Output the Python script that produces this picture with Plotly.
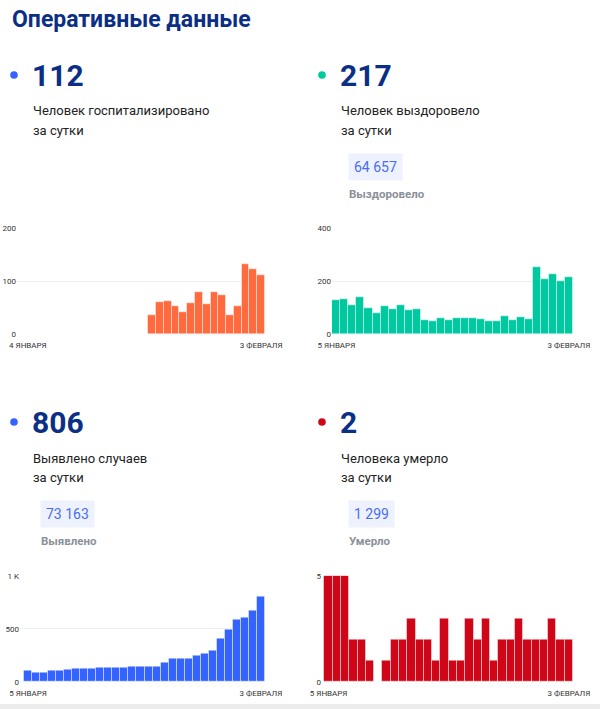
import plotly.graph_objects as go

# ── DATA ────────────────────────────────────────────────────────────────
DAYS_JAN4 = [f"2021-01-{d:02d}" for d in range(4, 32)] + [f"2021-02-{d:02d}" for d in range(1, 4)]
DAYS_JAN5 = DAYS_JAN4[1:]
DAYS_HOSP = DAYS_JAN4[16:]

HOSPITALIZED = [35, 60, 63, 53, 41, 58, 79, 57, 79, 73, 35, 52, 132, 122, 112]
RECOVERED = [129, 132, 110, 141, 97, 79, 106, 95, 109, 89, 96, 51, 49, 62, 54,
             60, 62, 60, 55, 50, 50, 67, 52, 64, 56, 251, 206, 226, 200, 217]
CASES = [110, 88, 88, 104, 110, 120, 123, 129, 129, 138, 135, 135, 138, 148, 148,
         145, 148, 185, 220, 220, 220, 248, 264, 296, 409, 494, 582, 607, 670, 806]
DEATHS = [5, 5, 5, 2, 2, 1, 0, 1, 2, 2, 3, 2, 2, 1, 3,
          1, 1, 3, 2, 3, 1, 2, 2, 3, 2, 2, 2, 3, 2, 2]

TOTAL_RECOVERED = "64 657"
TOTAL_CASES = "73 163"
TOTAL_DEATHS = "1 299"

W, H = 600, 709
FONT = "Roboto"
NAVY = "#0c2f86"
ORANGE, TEAL, BLUE, RED = "#ff6a3f", "#00c8a0", "#3563ff", "#cf0617"


def px(x):
    return x / W


def py(y):
    return 1 - y / H


fig = go.Figure()

# (trace x, trace y, categories, color, x pixel span, y pixel span, x range, y ticks, y ticktext, x ticktext)
panels = [
    (DAYS_HOSP, HOSPITALIZED, DAYS_JAN4, ORANGE, (17, 265), (228.3, 334.3), [-1.4, 30.5],
     [0, 100, 200], ["0", "100", "200"], ["4 ЯНВАРЯ", "3 ФЕВРАЛЯ"]),
    (DAYS_JAN5, RECOVERED, DAYS_JAN5, TEAL, (332, 573), (228.3, 334.3), [-0.55, 29.5],
     [0, 200, 400], ["0", "200", "400"], ["5 ЯНВАРЯ", "3 ФЕВРАЛЯ"]),
    (DAYS_JAN5, CASES, DAYS_JAN5, BLUE, (20, 265), (575.7, 682), [-1.0, 29.5],
     [0, 500, 1000], ["0", "500", "1 K"], ["5 ЯНВАРЯ", "3 ФЕВРАЛЯ"]),
    (DAYS_JAN5, DEATHS, DAYS_JAN5, RED, (322, 573), (575.7, 682), [-0.8, 29.5],
     [0, 5], ["0", "5"], ["5 ЯНВАРЯ", "3 ФЕВРАЛЯ"]),
]

layout_axes = {}
for i, (xs, ys, cats, color, xspan, yspan, xr, yt, ytt, xtt) in enumerate(panels, start=1):
    sfx = "" if i == 1 else str(i)
    fig.add_trace(go.Bar(
        x=xs, y=ys, xaxis=f"x{sfx}", yaxis=f"y{sfx}",
        marker=dict(color=color, line=dict(color="rgba(255,255,255,0.45)", width=1)),
        showlegend=False,
    ))
    layout_axes[f"xaxis{sfx}"] = dict(
        domain=[px(xspan[0]), px(xspan[1])], anchor=f"y{sfx}", automargin=False,
        type="category", categoryorder="array", categoryarray=cats, range=xr,
        tickvals=[cats[0], cats[-1]], ticktext=xtt,
        showgrid=False, zeroline=False, showline=False,
        ticks="outside", ticklen=3, tickcolor="rgba(0,0,0,0)",
        tickfont=dict(family=FONT, size=8, color="#333"),
    )
    layout_axes[f"yaxis{sfx}"] = dict(
        domain=[py(yspan[1]), py(yspan[0])], anchor=f"x{sfx}", automargin=False,
        range=[0, yt[-1]], tickvals=yt, ticktext=ytt,
        showgrid=True, gridcolor="#efefef", gridwidth=1, zeroline=False,
        ticks="", tickfont=dict(family=FONT, size=8, color="#333"),
    )

annotations = [
    dict(x=px(10), y=py(20), text="<b>Оперативные данные</b>",
         font=dict(size=23, color=NAVY)),
]

# header blocks: (dot x, text x, y offset, dot color, big number, caption line 1)
headers = [
    (14, 30, 0, BLUE, "112", "Человек госпитализировано"),
    (322, 338, 0, TEAL, "217", "Человек выздоровело"),
    (14, 30, 347, BLUE, "806", "Выявлено случаев"),
    (322, 338, 347, RED, "2", "Человека умерло"),
]
shapes = []
for dx, tx, dy, color, big, cap in headers:
    shapes.append(dict(type="circle", xref="paper", yref="paper",
                       x0=px(dx - 3.8), x1=px(dx + 3.8), y0=py(75 + dy + 3.8), y1=py(75 + dy - 3.8),
                       fillcolor=color, line=dict(width=0)))
    annotations.append(dict(x=px(tx), y=py(75 + dy), text=f"<b>{big}</b>",
                            font=dict(size=30, color=NAVY)))
    annotations.append(dict(x=px(tx + 1), y=py(111 + dy), text=cap,
                            font=dict(size=13, color="#222")))
    annotations.append(dict(x=px(tx + 1), y=py(131 + dy), text="за сутки",
                            font=dict(size=13, color="#222")))

# totals boxes
totals = [
    (348, 167, TOTAL_RECOVERED, "Выздоровело"),
    (40, 514, TOTAL_CASES, "Выявлено"),
    (348, 514, TOTAL_DEATHS, "Умерло"),
]
for bx, by, num, lbl in totals:
    annotations.append(dict(x=px(bx), y=py(by), text=num,
                            font=dict(size=14, color="#4a6cf6"),
                            bgcolor="#eef2fe", borderpad=5))
    annotations.append(dict(x=px(bx - 1), y=py(by + 27), text=f"<b>{lbl}</b>",
                            font=dict(size=11.5, color="#8b9099")))

for a in annotations:
    a.update(xref="paper", yref="paper", xanchor="left", yanchor="middle", showarrow=False)
    a["font"]["family"] = FONT

# grey strip at the bottom
shapes.append(dict(type="rect", xref="paper", yref="paper", x0=0, x1=1,
                   y0=0, y1=py(704), fillcolor="#ececec", line=dict(width=0), layer="below"))

fig.update_layout(
    width=W, height=H,
    margin=dict(l=0, r=0, t=0, b=0),
    paper_bgcolor="white", plot_bgcolor="white",
    bargap=0,
    font=dict(family=FONT),
    annotations=annotations,
    shapes=shapes,
    **layout_axes,
)

# drop the browser's default 8px body margin so the figure fills the window
fig.write_html("out.html", config={"displayModeBar": False},
               post_script="document.body.style.margin = '0';")
